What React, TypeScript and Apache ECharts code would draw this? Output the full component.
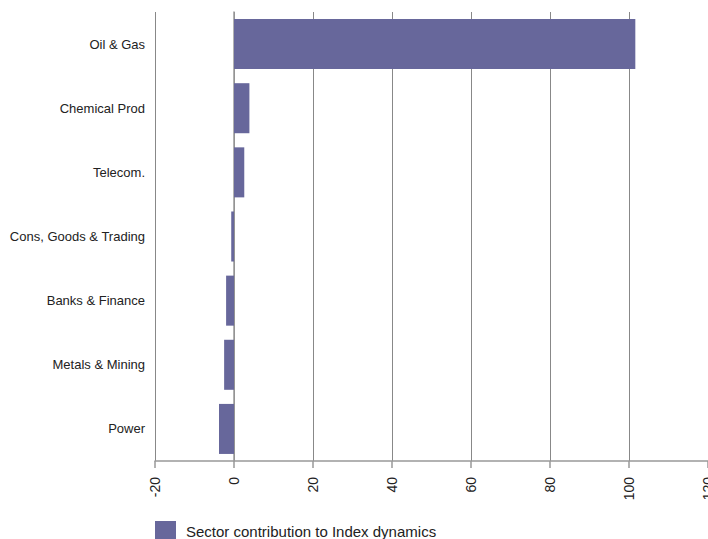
import React, { useEffect, useRef } from "react";
import * as echarts from "echarts";

const categories = [
  "Power",
  "Metals & Mining",
  "Banks & Finance",
  "Cons, Goods & Trading",
  "Telecom.",
  "Chemical Prod",
  "Oil & Gas",
];
const values = [-3.8, -2.5, -2.0, -0.7, 2.6, 3.9, 101.6];
const seriesName = "Sector contribution to Index dynamics";

export default function App() {
  const ref = useRef<HTMLDivElement>(null);
  useEffect(() => {
    if (!ref.current) return;
    const chart = echarts.init(ref.current, undefined, { renderer: "svg" });
    chart.setOption({
      animation: false,
      textStyle: { fontFamily: "'Liberation Sans', Arial, sans-serif" },
      grid: { left: 155, right: 0, top: 12, bottom: 78, containLabel: false, outerBoundsMode: "none" },
      legend: {
        data: [seriesName],
        left: 150,
        top: 516,
        itemWidth: 21,
        itemHeight: 21,
        icon: "rect",
        textStyle: { fontSize: 15, color: "#222", padding: [0, 0, 0, 5] },
      },
      xAxis: {
        type: "value",
        min: -20,
        max: 120,
        interval: 20,
        axisLine: { show: true, lineStyle: { color: "#999", width: 1.5 } },
        axisTick: { show: true, length: 7, lineStyle: { color: "#999", width: 1.5 } },
        splitLine: { show: true, lineStyle: { color: "#888", width: 1 } },
        axisLabel: { rotate: 90, fontSize: 14, color: "#222", margin: 16, showMaxLabel: true },
      },
      yAxis: {
        type: "category",
        data: categories,
        axisLine: { show: true, lineStyle: { color: "#999", width: 1.5 } },
        axisTick: { show: false },
        axisLabel: { fontSize: 13, color: "#222", margin: 10 },
      },
      series: [
        {
          name: seriesName,
          type: "bar",
          data: values,
          barCategoryGap: "22%",
          itemStyle: { color: "#67679b" },
        },
      ],
    });
    return () => chart.dispose();
  }, []);
  return <div ref={ref} style={{ width: 708, height: 539, position: "absolute", left: 0, top: 0 }} />;
}
